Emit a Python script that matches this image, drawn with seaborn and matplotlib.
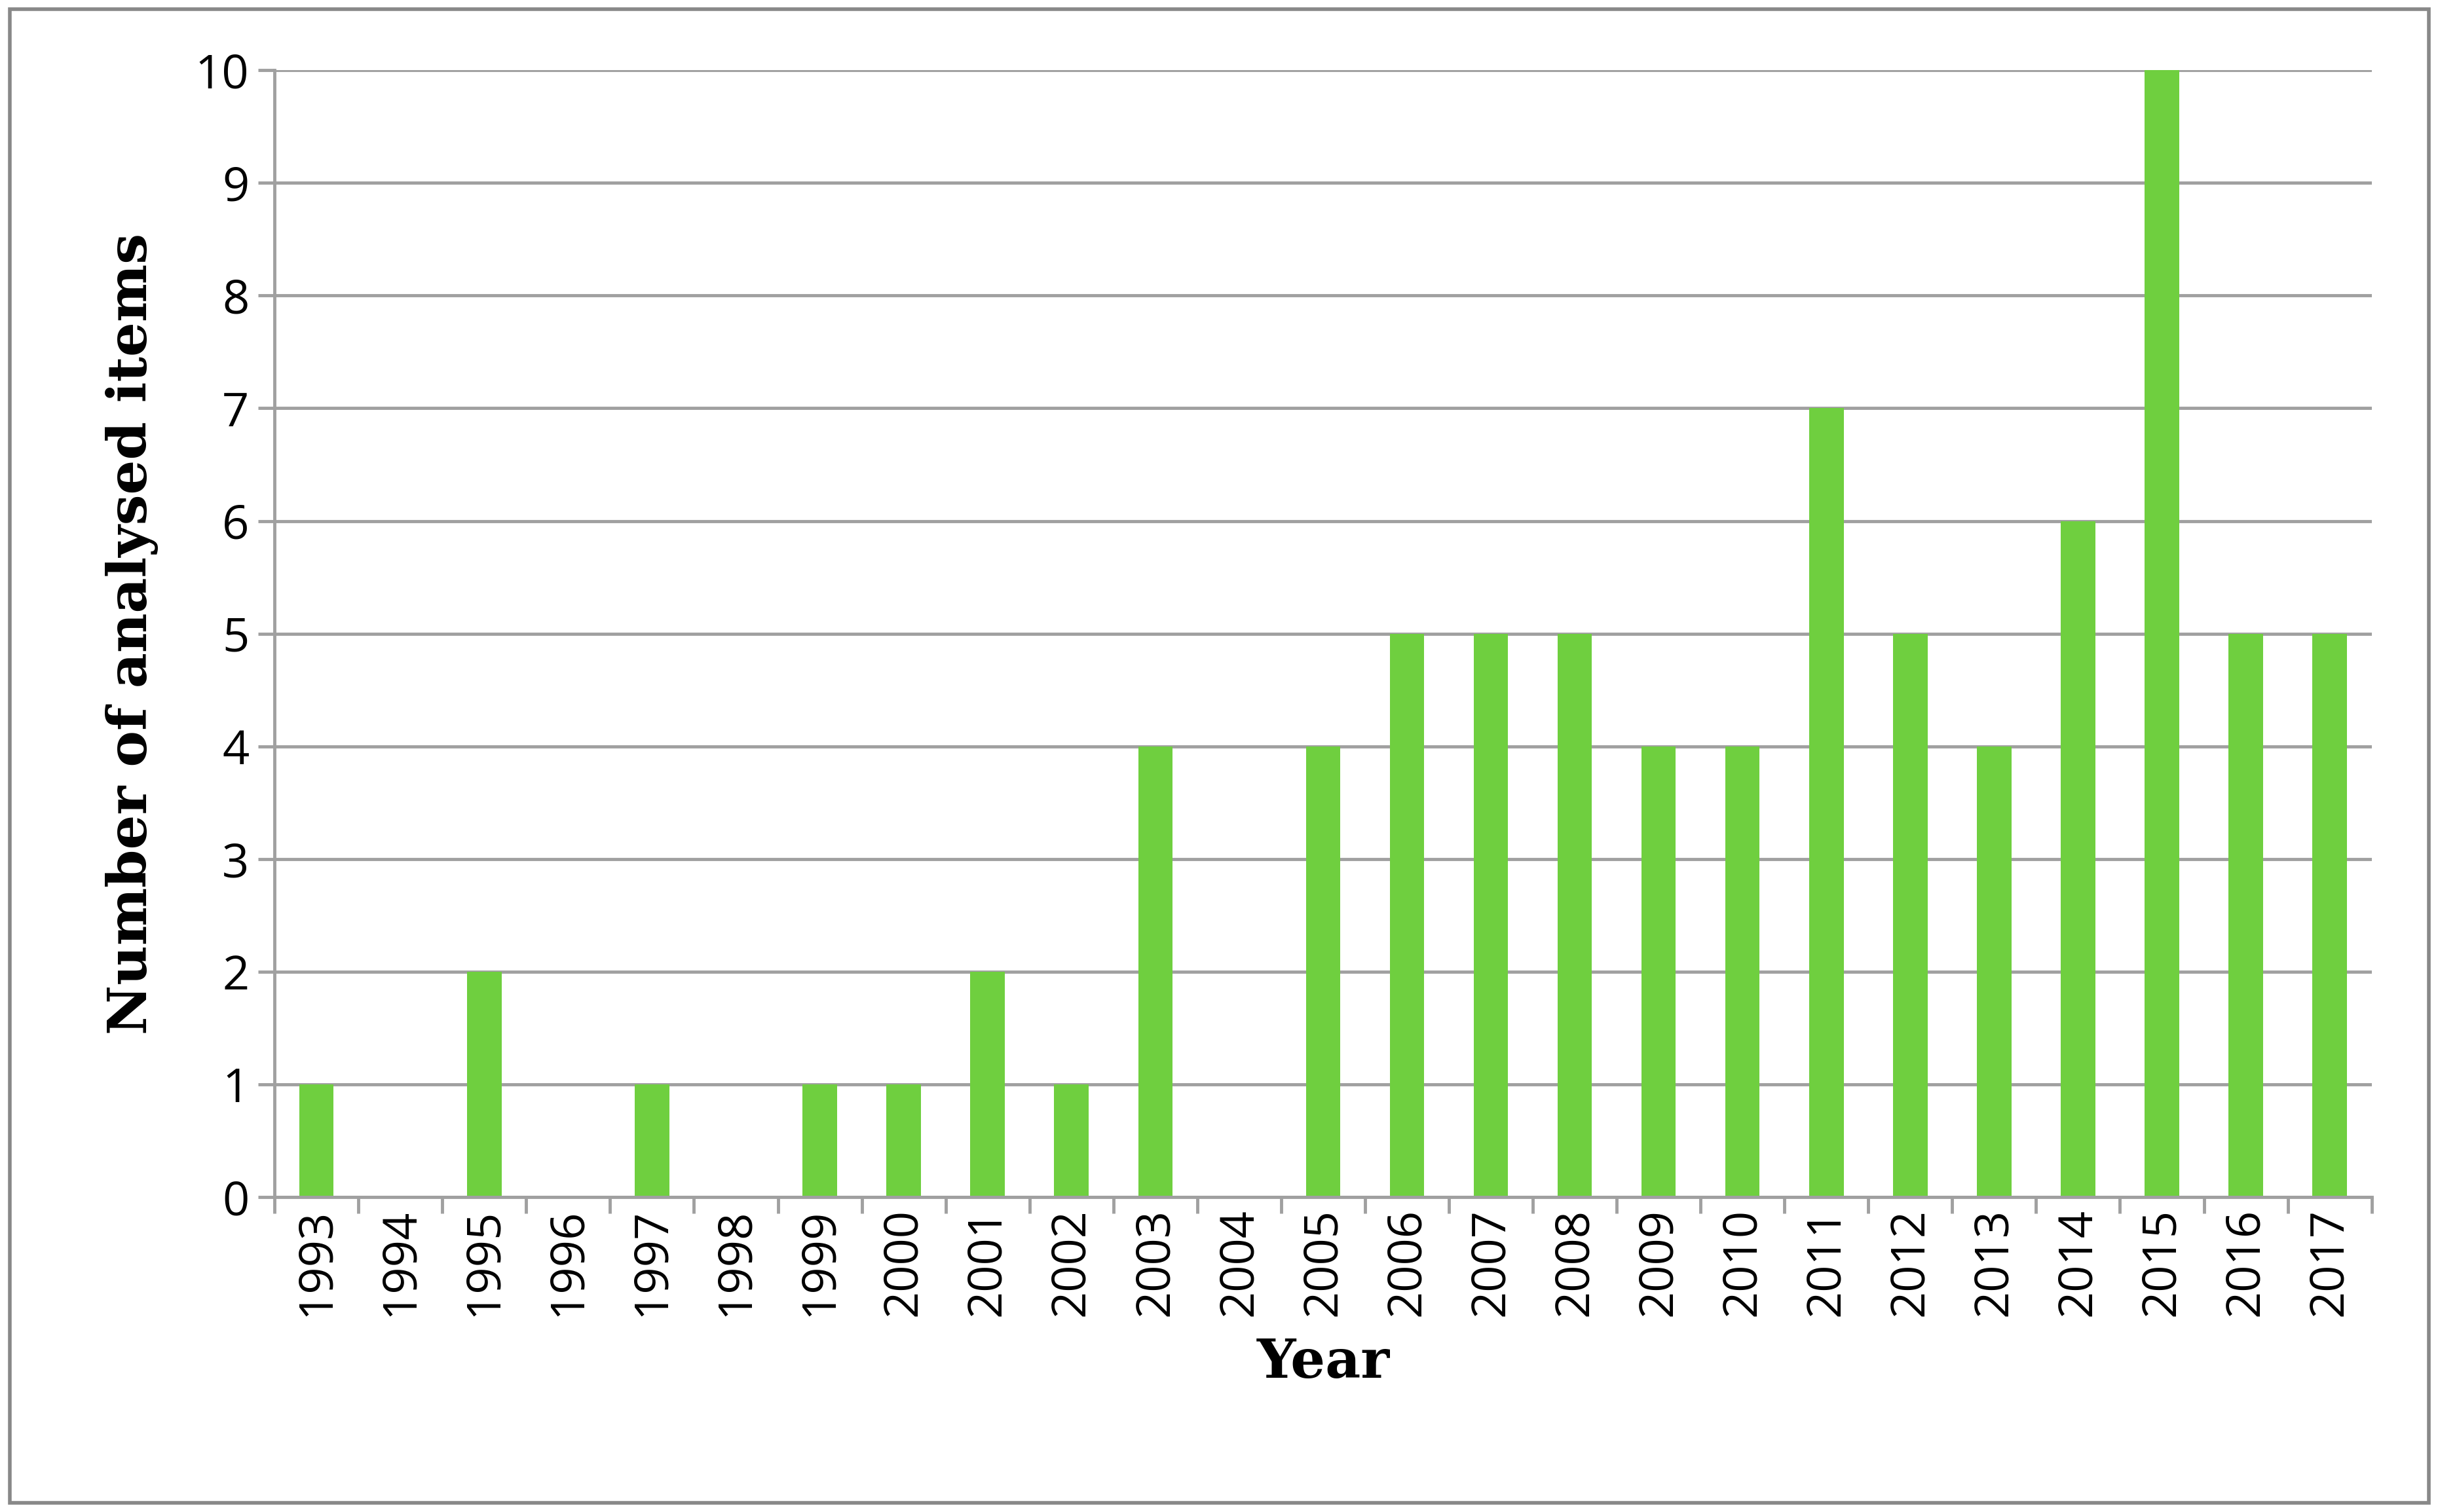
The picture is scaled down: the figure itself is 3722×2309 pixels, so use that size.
import matplotlib
matplotlib.use("Agg")
import matplotlib.pyplot as plt
import seaborn as sns
import pandas as pd
import numpy as np
from matplotlib.patches import Rectangle

years = [str(y) for y in range(1993, 2018)]
counts = [1, 0, 2, 0, 1, 0, 1, 1, 2, 1, 4, 0, 4, 5, 5, 5, 4, 4, 7, 5, 4, 6, 10, 5, 5]
df = pd.DataFrame({"Year": years, "Count": counts})

sns.set_theme(style="white")
fig = plt.figure(figsize=(37.23, 23.09), dpi=100)
ax = fig.add_axes([0.1126, 0.2082, 0.8599, 0.7454])
sns.barplot(data=df, x="Year", y="Count", color="#6fcf3f", saturation=1, width=0.41, ax=ax)
for p in ax.patches:
    p.set_edgecolor("none")

ax.set_ylim(0, 10)
ax.set_xlim(-0.5, len(years) - 0.5)
ax.set_yticks(range(0, 11))
ax.yaxis.grid(True, color="#a0a0a0", linewidth=3.5)
ax.set_axisbelow(True)
for s in ["top", "right"]:
    ax.spines[s].set_visible(False)
for s in ["left", "bottom"]:
    ax.spines[s].set_color("#a0a0a0")
    ax.spines[s].set_linewidth(3.5)
ax.set_xticks(np.arange(-0.5, len(years)), minor=True)
ax.tick_params(axis="x", which="minor", length=18, width=3.5, color="#a0a0a0", bottom=True)
ax.tick_params(axis="x", which="major", length=0, labelsize=52, rotation=90, pad=12, labelcolor="black")
ax.tick_params(axis="y", length=18, width=3.5, color="#a0a0a0", left=True, labelsize=52, pad=10, labelcolor="black")
for t in ax.get_xticklabels() + ax.get_yticklabels():
    t.set_fontfamily("Open Sans")
ax.set_xlabel("Year", fontsize=60, fontweight="bold", family="DejaVu Serif", labelpad=22, color="black")
ax.set_ylabel("Number of analysed items", fontsize=60, fontweight="bold", family="DejaVu Serif", labelpad=40, color="black")

fig.patches.append(Rectangle((0.004, 0.006), 0.992, 0.988, transform=fig.transFigure,
                             fill=False, edgecolor="#888888", linewidth=4))
fig.savefig("out.png", dpi=100)
